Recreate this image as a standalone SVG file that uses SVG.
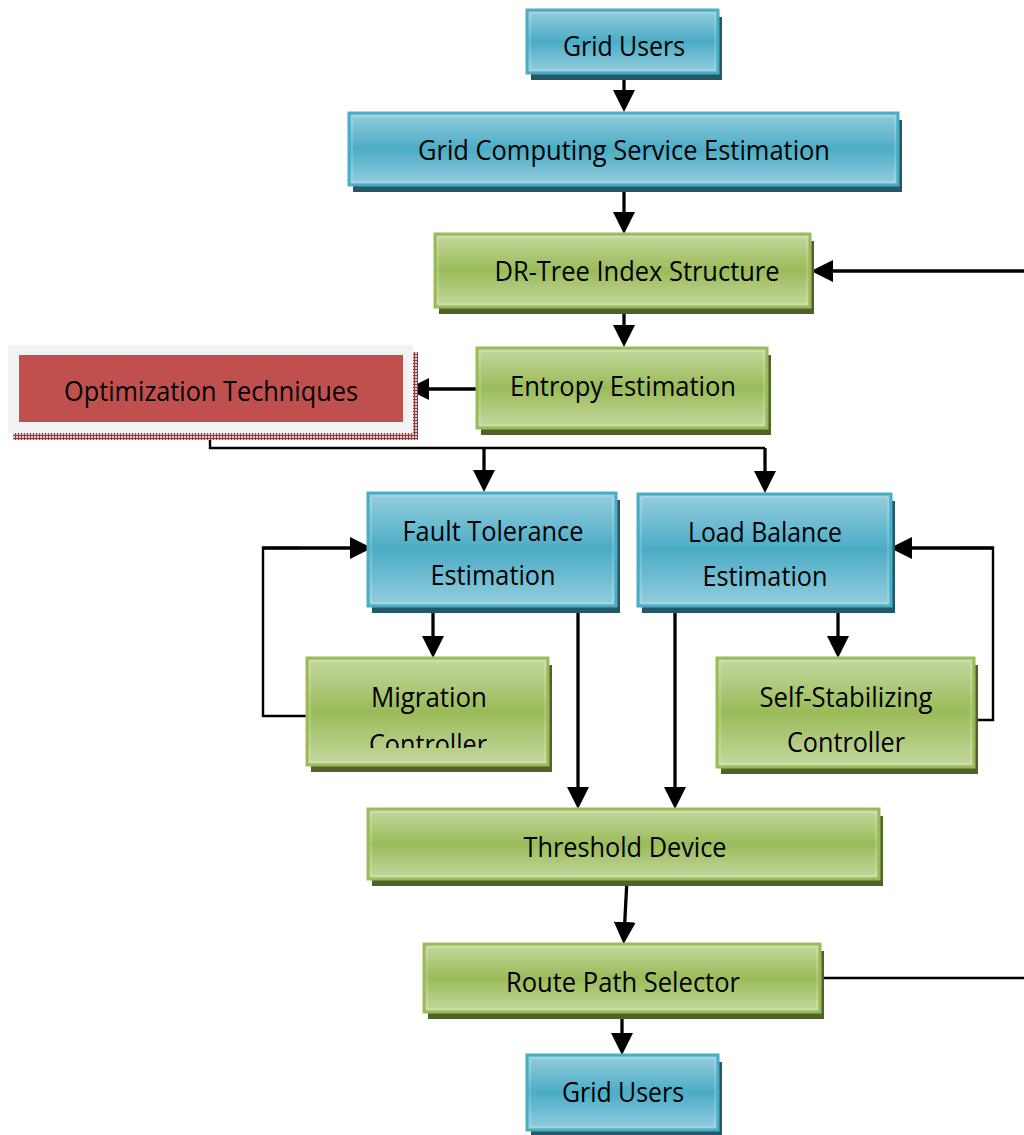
<svg xmlns="http://www.w3.org/2000/svg" width="1024" height="1135" viewBox="0 0 1024 1135">
<defs>
<linearGradient id="gBlue" x1="0" y1="0" x2="0" y2="1">
<stop offset="0" stop-color="#95CEDE"/>
<stop offset="0.5" stop-color="#4BACC6"/>
<stop offset="1" stop-color="#95CEDE"/>
</linearGradient>
<linearGradient id="gGreen" x1="0" y1="0" x2="0" y2="1">
<stop offset="0" stop-color="#C5D89F"/>
<stop offset="0.5" stop-color="#9BBB59"/>
<stop offset="1" stop-color="#C5D89F"/>
</linearGradient>
<pattern id="hatch" width="3" height="3" patternUnits="userSpaceOnUse">
<rect width="3" height="3" fill="#E8C8C8"/>
<path d="M0,0.5 H3 M0.5,0 V3" stroke="#8E3B3B" stroke-width="1"/>
</pattern>
<marker id="ah" markerUnits="userSpaceOnUse" markerWidth="22" markerHeight="22" viewBox="0 0 22 22" refX="15" refY="11" orient="auto">
<path d="M0,0 L22,11 L0,22 Z" fill="#000"/>
</marker>
<clipPath id="mcClip"><rect x="300" y="650" width="260" height="98"/></clipPath>
</defs>
<style>
.blue{fill:url(#gBlue);stroke:#4BACC6;stroke-width:3}
.green{fill:url(#gGreen);stroke:#9BBB59;stroke-width:3}
.bshadow{fill:#215968}
.gshadow{fill:#4F6228}
.inner{fill:none;stroke:#ffffff;stroke-opacity:0.35;stroke-width:1}
text{font-family:"Open Sans","Noto Sans","Liberation Sans",sans-serif;font-size:27px;fill:#000;text-anchor:middle}
.ln{fill:none;stroke:#000;stroke-width:3.3}
.thin{fill:none;stroke:#000;stroke-width:2.4}
.arr{marker-end:url(#ah)}
</style>

<g id="connectors">
<path class="ln arr" d="M624,73 L624,105"/>
<path class="ln arr" d="M624,186 L624,227"/>
<path class="ln arr" d="M1024,271 L818,271"/>
<path class="ln arr" d="M624,308 L624,340"/>
<path class="ln arr" d="M477,389 L414,389"/>
<path class="thin" d="M210,433 L210,448 L765,448"/>
<path class="ln arr" d="M484,448 L484,485"/>
<path class="ln arr" d="M765,448 L765,486"/>
<path class="ln arr" d="M433,607 L433,651"/>
<path class="ln arr" d="M838,607 L838,651"/>
<path class="thin" d="M307,716 L263,716 L263,548 L300,548"/>
<path class="ln arr" d="M262,548 L365,548"/>
<path class="thin" d="M975,720 L993,720 L993,548 L960,548"/>
<path class="ln arr" d="M994,548 L897,548"/>
<path class="ln arr" d="M578,607 L578,802"/>
<path class="ln arr" d="M675,607 L675,802"/>
<path class="ln arr" d="M627,879 L624,937"/>
<path class="thin" d="M820,978 L1024,978"/>
<path class="ln arr" d="M622,1013 L622,1048"/>
</g>

<g id="gridUsersTop">
<rect class="bshadow" x="531" y="17" width="191" height="63"/>
<rect class="blue" x="527" y="10" width="191" height="63"/>
<rect class="inner" x="530" y="13" width="185" height="57"/>
<text x="624" y="56" textLength="122" lengthAdjust="spacingAndGlyphs">Grid Users</text>
</g>

<g id="gridComputingServiceEstimation">
<rect class="bshadow" x="353" y="120" width="549" height="72"/>
<rect class="blue" x="349" y="113" width="549" height="72"/>
<rect class="inner" x="352" y="116" width="543" height="66"/>
<text x="624" y="160" textLength="412" lengthAdjust="spacingAndGlyphs">Grid Computing Service Estimation</text>
</g>

<g id="drTree">
<rect class="gshadow" x="439" y="241" width="375" height="73"/>
<rect class="green" x="435" y="234" width="375" height="73"/>
<rect class="inner" x="438" y="237" width="369" height="67"/>
<text x="637" y="281" textLength="285" lengthAdjust="spacingAndGlyphs">DR-Tree Index Structure</text>
</g>

<g id="entropyEstimation">
<rect class="gshadow" x="481" y="355" width="290" height="80"/>
<rect class="green" x="477" y="348" width="290" height="80"/>
<rect class="inner" x="480" y="351" width="284" height="74"/>
<text x="623" y="396" textLength="226" lengthAdjust="spacingAndGlyphs">Entropy Estimation</text>
</g>

<g id="optimizationTechniques">
<rect x="13" y="352" width="405" height="88" fill="url(#hatch)"/>
<rect x="8" y="345" width="405" height="88" fill="#F2F2F2"/>
<rect x="19" y="355" width="384" height="67" fill="#C0504D"/>
<text x="211" y="401" textLength="294" lengthAdjust="spacingAndGlyphs">Optimization Techniques</text>
</g>

<g id="faultTolerance">
<rect class="bshadow" x="372" y="500" width="248" height="113"/>
<rect class="blue" x="368" y="493" width="248" height="113"/>
<rect class="inner" x="371" y="496" width="242" height="107"/>
<text x="493" y="541" textLength="181" lengthAdjust="spacingAndGlyphs">Fault Tolerance</text>
<text x="493" y="585" textLength="125" lengthAdjust="spacingAndGlyphs">Estimation</text>
</g>

<g id="loadBalance">
<rect class="bshadow" x="642" y="501" width="253" height="112"/>
<rect class="blue" x="638" y="494" width="253" height="112"/>
<rect class="inner" x="641" y="497" width="247" height="106"/>
<text x="765" y="542" textLength="154" lengthAdjust="spacingAndGlyphs">Load Balance</text>
<text x="765" y="586" textLength="125" lengthAdjust="spacingAndGlyphs">Estimation</text>
</g>

<g id="migrationController">
<rect class="gshadow" x="311" y="665" width="241" height="107"/>
<rect class="green" x="307" y="658" width="241" height="107"/>
<rect class="inner" x="310" y="661" width="235" height="101"/>
<text x="429" y="707" textLength="116" lengthAdjust="spacingAndGlyphs">Migration</text>
<text x="428" y="754" textLength="118" lengthAdjust="spacingAndGlyphs" clip-path="url(#mcClip)">Controller</text>
</g>

<g id="selfStabilizingController">
<rect class="gshadow" x="721" y="665" width="257" height="109"/>
<rect class="green" x="717" y="658" width="257" height="109"/>
<rect class="inner" x="720" y="661" width="251" height="103"/>
<text x="846" y="707" textLength="173" lengthAdjust="spacingAndGlyphs">Self-Stabilizing</text>
<text x="846" y="752" textLength="118" lengthAdjust="spacingAndGlyphs">Controller</text>
</g>

<g id="thresholdDevice">
<rect class="gshadow" x="372" y="816" width="511" height="70"/>
<rect class="green" x="368" y="809" width="511" height="70"/>
<rect class="inner" x="371" y="812" width="505" height="64"/>
<text x="625" y="857" textLength="203" lengthAdjust="spacingAndGlyphs">Threshold Device</text>
</g>

<g id="routePathSelector">
<rect class="gshadow" x="428" y="951" width="396" height="68"/>
<rect class="green" x="424" y="944" width="396" height="68"/>
<rect class="inner" x="427" y="947" width="390" height="62"/>
<text x="623" y="992" textLength="234" lengthAdjust="spacingAndGlyphs">Route Path Selector</text>
</g>

<g id="gridUsersBottom">
<rect class="bshadow" x="531" y="1062" width="191" height="75"/>
<rect class="blue" x="527" y="1055" width="191" height="75"/>
<rect class="inner" x="530" y="1058" width="185" height="69"/>
<text x="623" y="1102" textLength="122" lengthAdjust="spacingAndGlyphs">Grid Users</text>
</g>
</svg>
